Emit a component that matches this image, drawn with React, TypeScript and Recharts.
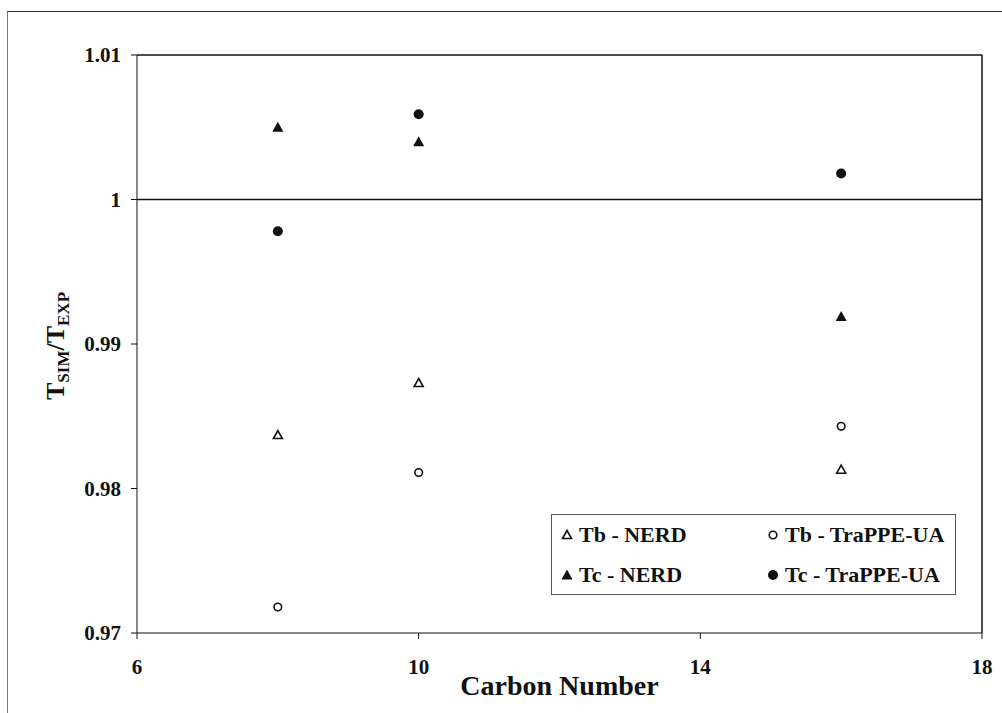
import React from "react";
import {
  ScatterChart,
  Scatter,
  XAxis,
  YAxis,
  ReferenceLine,
} from "recharts";

// carbon numbers of the simulated alkanes
const carbonNumbers = [8, 10, 16];

// T_SIM / T_EXP ratios per model and property
const tbNerd = [0.9837, 0.9873, 0.9813];
const tbTrappe = [0.9718, 0.9811, 0.9843];
const tcNerd = [1.005, 1.004, 0.9919];
const tcTrappe = [0.9978, 1.0059, 1.0018];

const xTicks = [6, 10, 14, 18];
const yTicks = [0.97, 0.98, 0.99, 1, 1.01];

const FONT = "'Liberation Serif', 'DejaVu Serif', serif";

const toPoints = (vals: number[]) =>
  carbonNumbers.map((c, i) => ({ carbon: c, ratio: vals[i] }));

type ShapeProps = { cx?: number; cy?: number };

const FilledTriangle = ({ cx = 0, cy = 0 }: ShapeProps) => (
  <path d={`M${cx},${cy - 5.5} L${cx + 5.5},${cy + 4.5} L${cx - 5.5},${cy + 4.5} Z`} fill="#111" />
);
const OpenTriangle = ({ cx = 0, cy = 0 }: ShapeProps) => (
  <path
    d={`M${cx},${cy - 4.5} L${cx + 4.5},${cy + 3.5} L${cx - 4.5},${cy + 3.5} Z`}
    fill="#fff"
    stroke="#111"
    strokeWidth={1.6}
  />
);
const FilledCircle = ({ cx = 0, cy = 0 }: ShapeProps) => (
  <circle cx={cx} cy={cy} r={5} fill="#111" />
);
const OpenCircle = ({ cx = 0, cy = 0 }: ShapeProps) => (
  <circle cx={cx} cy={cy} r={3.8} fill="#fff" stroke="#111" strokeWidth={1.6} />
);

const legendItems = [
  { name: "Tb - NERD", Shape: OpenTriangle },
  { name: "Tb - TraPPE-UA", Shape: OpenCircle },
  { name: "Tc - NERD", Shape: FilledTriangle },
  { name: "Tc - TraPPE-UA", Shape: FilledCircle },
];

// legend box sits inside the plot, lower right
const LegendBox = () => (
  <div
    style={{
      position: "absolute",
      left: 551,
      top: 514,
      width: 405,
      height: 81,
      border: "1px solid #555",
      background: "#fff",
      display: "grid",
      gridTemplateColumns: "206px 199px",
      gridTemplateRows: "40px 40px",
      fontFamily: FONT,
      fontWeight: "bold",
      fontSize: 22,
      color: "#111",
      boxSizing: "border-box",
    }}
  >
    {legendItems.map(({ name, Shape }) => (
      <div key={name} style={{ display: "flex", alignItems: "center", paddingLeft: 8 }}>
        <svg width={14} height={14} style={{ marginRight: 5 }}>
          <Shape cx={7} cy={7} />
        </svg>
        <span>{name}</span>
      </div>
    ))}
  </div>
);

const YLabel = () => (
  <text
    transform="translate(64, 346) rotate(-90)"
    textAnchor="middle"
    fontFamily={FONT}
    fontWeight="bold"
    fontSize={26}
    fill="#111"
  >
    T<tspan fontSize={17} dy={5}>SIM</tspan>
    <tspan dy={-5}>/T</tspan>
    <tspan fontSize={17} dy={5}>EXP</tspan>
  </text>
);

export default function App() {
  const tickStyle = { fontFamily: FONT, fontWeight: "bold", fontSize: 21, fill: "#111" };
  return (
    <div style={{ position: "absolute", left: 0, top: 0, width: 1002, height: 713, background: "#fff" }}>
      <div
        style={{
          position: "absolute",
          left: 7,
          top: 11,
          width: 995,
          height: 702,
          borderTop: "1.5px solid #333",
          borderLeft: "1.5px solid #777",
        }}
      />
      <ScatterChart width={1002} height={713} margin={{ top: 55, right: 20, bottom: 30, left: 57 }}>
        <XAxis
          type="number"
          dataKey="carbon"
          domain={[6, 18]}
          ticks={xTicks}
          interval={0}
          height={50}
          tick={tickStyle}
          tickSize={6}
          tickMargin={20}
          stroke="#111"
          label={{
            value: "Carbon Number",
            position: "insideBottom",
            offset: -12,
            style: { fontFamily: FONT, fontWeight: "bold", fontSize: 28, fill: "#111" },
          }}
        />
        <YAxis
          type="number"
          dataKey="ratio"
          domain={[0.97, 1.01]}
          ticks={yTicks}
          interval={0}
          width={80}
          tick={tickStyle}
          tickSize={6}
          tickMargin={10}
          tickFormatter={(v: number) => String(v)}
          stroke="#111"
          label={<YLabel />}
        />
        <ReferenceLine y={1.01} stroke="#111" strokeWidth={1.5} />
        <ReferenceLine y={1} stroke="#111" strokeWidth={1.5} />
        <ReferenceLine x={18} stroke="#111" strokeWidth={1.5} />
        <Scatter name="Tb - NERD" data={toPoints(tbNerd)} shape={OpenTriangle} isAnimationActive={false} />
        <Scatter name="Tb - TraPPE-UA" data={toPoints(tbTrappe)} shape={OpenCircle} isAnimationActive={false} />
        <Scatter name="Tc - NERD" data={toPoints(tcNerd)} shape={FilledTriangle} isAnimationActive={false} />
        <Scatter name="Tc - TraPPE-UA" data={toPoints(tcTrappe)} shape={FilledCircle} isAnimationActive={false} />
      </ScatterChart>
      <LegendBox />
    </div>
  );
}
